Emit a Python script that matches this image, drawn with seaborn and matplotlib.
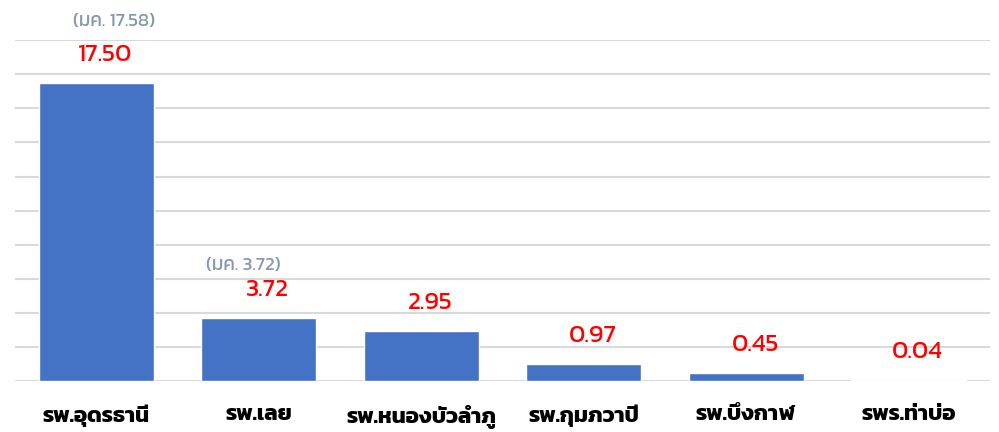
import matplotlib
matplotlib.use("Agg")
import matplotlib.pyplot as plt
import seaborn as sns
import pandas as pd

hospitals = ["รพ.อุดรธานี", "รพ.เลย", "รพ.หนองบัวลำภู", "รพ.กุมภวาปี", "รพ.บึงกาฬ", "รพร.ท่าบ่อ"]
values = [17.50, 3.72, 2.95, 0.97, 0.45, 0.04]
jan_notes = ["(มค. 17.58)", "(มค. 3.72)", None, None, None, None]

df = pd.DataFrame({"hospital": hospitals, "value": values})

sns.set_theme(style="white")
plt.rcParams["font.family"] = ["Kanit", "IBM Plex Sans Thai", "DejaVu Sans"]

fig, ax = plt.subplots(figsize=(9.99, 4.32), dpi=100)
fig.subplots_adjust(left=0.015, right=0.991, top=0.907, bottom=0.118)

sns.barplot(data=df, x="hospital", y="value", color="#4472C4", saturation=1, width=0.71, ax=ax)

ax.set_ylim(0, 20)
ax.set_yticks(range(0, 21, 2))
ax.yaxis.grid(True, color="#D9D9D9", linewidth=1.5)
ax.set_axisbelow(True)
ax.set_yticklabels([])
ax.tick_params(axis="y", length=0)
ax.tick_params(axis="x", length=0, pad=17)
for s in ax.spines.values():
    s.set_visible(False)
ax.set_xlabel("")
ax.set_ylabel("")
for lbl in ax.get_xticklabels():
    lbl.set_fontsize(16)
    lbl.set_fontweight("bold")
    lbl.set_color("black")

# หมายเหตุ มค. วางตำแหน่งเองทีละแท่ง
note_offsets = [(18, 61), (-15, 52)]
for i, v in enumerate(values):
    ax.annotate(f"{v:.2f}", (i, v), xytext=(9, 28), textcoords="offset pixels",
                ha="center", va="center", color="red", fontsize=18)
    if jan_notes[i]:
        ax.annotate(jan_notes[i], (i, v), xytext=note_offsets[i], textcoords="offset pixels",
                    ha="center", va="center", color="#8497B0", fontsize=13.5,
                    annotation_clip=False)

fig.savefig("out.png", dpi=100)
